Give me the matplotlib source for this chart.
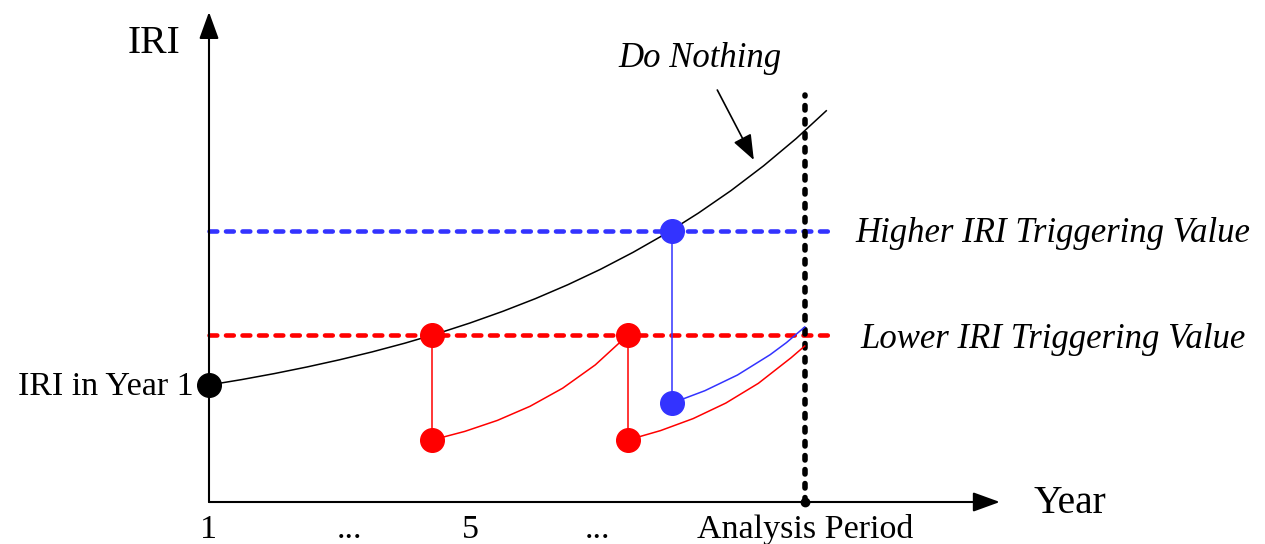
import matplotlib.pyplot as plt

plt.rcParams['font.family'] = ['Liberation Serif', 'DejaVu Serif']

# schematic units: x in years, y in IRI (arbitrary)
IRI_YEAR1 = 1.17
LOWER_TRIGGER = 1.67
HIGHER_TRIGGER = 2.71
ANALYSIS_PERIOD = 10.13

# do-nothing deterioration curve
do_nothing_x = [1.0, 1.5, 2.0, 2.5, 3.0, 3.5, 4.0, 4.5, 5.0, 5.5, 6.0, 6.5,
                7.0, 7.5, 8.0, 8.5, 9.0, 9.5, 10.0, 10.46]
do_nothing_y = [1.170, 1.224, 1.284, 1.350, 1.422, 1.501, 1.588, 1.684, 1.790,
                1.906, 2.033, 2.173, 2.327, 2.497, 2.683, 2.889, 3.114, 3.362,
                3.635, 3.912]

# lower trigger strategy: two treatments
red_treat_x = [4.42, 7.42]
red_reset_y = [0.62, 0.62]
red_curve1_x = [4.42, 4.92, 5.42, 5.92, 6.42, 6.92, 7.42]
red_curve1_y = [0.620, 0.706, 0.816, 0.957, 1.138, 1.371, 1.670]
red_curve2_x = [7.42, 7.92, 8.42, 8.92, 9.42, 9.92, 10.13]
red_curve2_y = [0.620, 0.714, 0.834, 0.989, 1.187, 1.442, 1.560]

# higher trigger strategy: one treatment
blue_treat_x = [8.10]
blue_reset_y = [0.99]
blue_curve_x = [8.10, 8.60, 9.10, 9.60, 9.85, 10.13]
blue_curve_y = [0.990, 1.113, 1.270, 1.473, 1.594, 1.750]

tick_pos = [1, 3.16, 5, 6.95, ANALYSIS_PERIOD]
tick_labels = ['1', '...', '5', '...', 'Analysis Period']

RED = '#ff0000'
BLUE = '#3333ff'

fig = plt.figure(figsize=(12.65, 5.44), dpi=100)
ax = fig.add_axes([0, 0, 1, 1])
ax.set_xlim(-2.203, 17.184)
ax.set_ylim(-0.42, 5.02)
ax.axis('off')

# axes with arrows
arrow_style = '-|>,head_length=0.55,head_width=0.2'
ax.annotate('', xy=(1, 4.90), xytext=(1, 0), zorder=5,
            arrowprops=dict(arrowstyle=arrow_style, mutation_scale=30,
                            lw=1.5, color='black', shrinkA=0, shrinkB=0))
ax.annotate('', xy=(13.12, 0), xytext=(1, 0), zorder=5,
            arrowprops=dict(arrowstyle=arrow_style, mutation_scale=30,
                            lw=1.5, color='black', shrinkA=0, shrinkB=0))

# trigger levels
ax.plot([1, 10.49], [HIGHER_TRIGGER] * 2, color=BLUE, lw=3.3,
        linestyle=(0, (1.7, 1.9)), dash_capstyle='round', zorder=2)
ax.plot([1, 10.49], [LOWER_TRIGGER] * 2, color=RED, lw=3.3,
        linestyle=(0, (1.7, 1.9)), dash_capstyle='round', zorder=2)

# analysis period
ax.plot([ANALYSIS_PERIOD] * 2, [0, 4.07], color='black', lw=4,
        linestyle=(0, (0.8, 1.72)), dash_capstyle='round', zorder=3)
ax.plot([ANALYSIS_PERIOD], [0], 'o', color='black', ms=6, zorder=6)

# do nothing
ax.plot(do_nothing_x, do_nothing_y, color='black', lw=1.1, zorder=3)

# lower trigger path
ax.plot([red_treat_x[0]] * 2, [LOWER_TRIGGER, red_reset_y[0]], color=RED, lw=1.1, zorder=3)
ax.plot(red_curve1_x, red_curve1_y, color=RED, lw=1.1, zorder=3)
ax.plot([red_treat_x[1]] * 2, [LOWER_TRIGGER, red_reset_y[1]], color=RED, lw=1.1, zorder=3)
ax.plot(red_curve2_x, red_curve2_y, color=RED, lw=1.1, zorder=3)
ax.plot(red_treat_x, [LOWER_TRIGGER] * 2, 'o', color=RED, ms=17, zorder=4)
ax.plot(red_treat_x, red_reset_y, 'o', color=RED, ms=17, zorder=4)

# higher trigger path
ax.plot([blue_treat_x[0]] * 2, [HIGHER_TRIGGER, blue_reset_y[0]], color=BLUE, lw=1.1, zorder=3)
ax.plot(blue_curve_x, blue_curve_y, color=BLUE, lw=1.1, zorder=3)
ax.plot(blue_treat_x, [HIGHER_TRIGGER], 'o', color=BLUE, ms=17, zorder=4)
ax.plot(blue_treat_x, blue_reset_y, 'o', color=BLUE, ms=17, zorder=4)

# starting point
ax.plot([1], [IRI_YEAR1], 'o', color='black', ms=17, zorder=6)

# texts
ax.text(0.157, 4.49, 'IRI', fontsize=28.5, ha='center', va='baseline')
ax.text(14.20, -0.11, 'Year', fontsize=28.5, ha='center', va='baseline')
ax.text(0.77, 1.07, 'IRI in Year 1', fontsize=24.5, ha='right', va='baseline')
for pos, lab in zip(tick_pos, tick_labels):
    ax.text(pos, -0.36, lab, fontsize=24.5, ha='center', va='baseline')

ax.text(13.93, 2.60, 'Higher IRI Triggering Value', fontsize=25,
        style='italic', ha='center', va='baseline')
ax.text(13.93, 1.54, 'Lower IRI Triggering Value', fontsize=25,
        style='italic', ha='center', va='baseline')
ax.text(8.53, 4.35, 'Do Nothing', fontsize=25, style='italic',
        ha='center', va='baseline')
ax.annotate('', xy=(9.35, 3.42), xytext=(8.79, 4.12),
            arrowprops=dict(arrowstyle='-|>,head_length=0.65,head_width=0.25',
                            mutation_scale=24, lw=1.2, color='black',
                            shrinkA=0, shrinkB=0))

fig.savefig('out.png', dpi=100)
